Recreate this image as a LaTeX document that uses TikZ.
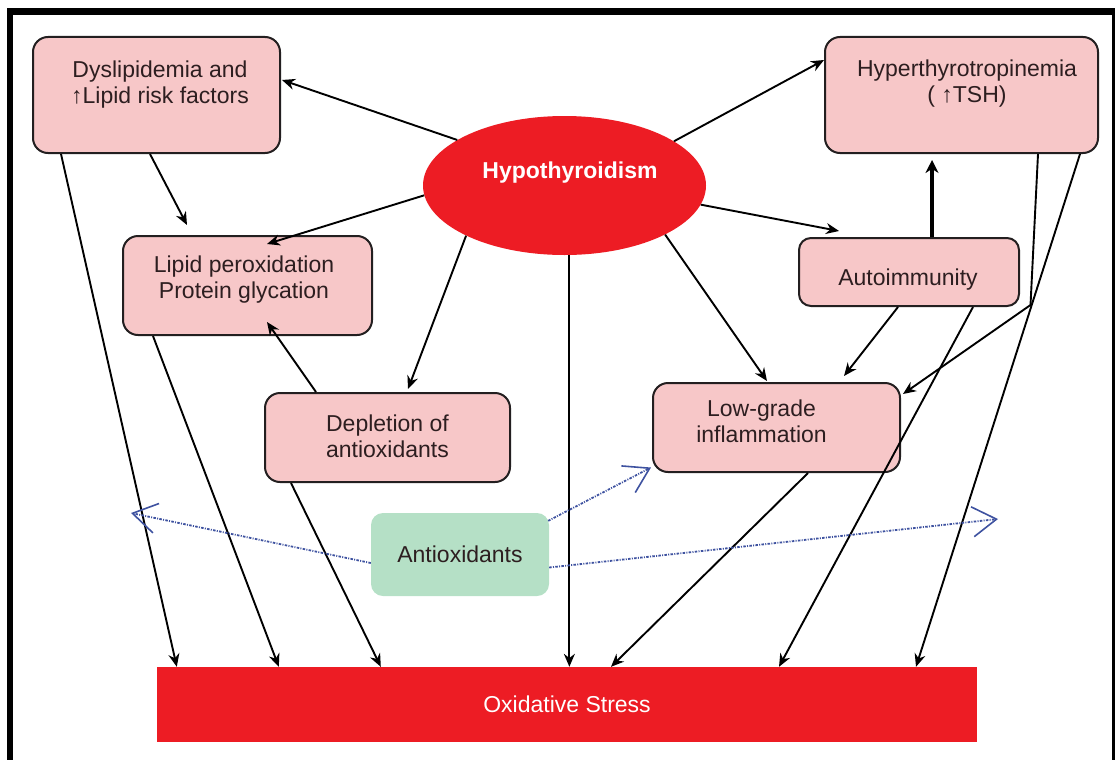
\documentclass[tikz,border=0pt]{standalone}
\usepackage{fontspec}
\setmainfont{Liberation Sans}
\usetikzlibrary{arrows.meta,calc,shapes.geometric}

\definecolor{boxpink}{RGB}{247,199,200}
\definecolor{boxedge}{RGB}{35,31,32}
\definecolor{hotred}{RGB}{237,28,36}
\definecolor{mint}{RGB}{181,224,198}
\definecolor{inkbrown}{RGB}{45,30,32}
\definecolor{dotblue}{RGB}{62,82,160}

\tikzset{
  txt/.style={font=\fontsize{23}{26}\selectfont, text=inkbrown, align=center, inner sep=0pt},
  whitetxt/.style={font=\fontsize{23}{26}\selectfont, text=white, inner sep=0pt},
  factor/.style={draw=boxedge, line width=2pt, fill=boxpink, rounded corners=15pt, inner sep=0pt},
  link/.style={draw=black, line width=1.9pt, -{Stealth[length=13pt,width=11pt]}},
  thicklink/.style={draw=black, line width=3.8pt, -{Stealth[length=13pt,width=13pt]}},
  antiarrow/.style={draw=dotblue, line width=1.8pt,
    dash pattern=on 2.5pt off 1.3pt on 1pt off 1.3pt,
    -{Straight Barb[length=24pt,width=30pt,line width=1.6pt]}}
}

\begin{document}
\begin{tikzpicture}[x=1pt,y=-1pt]
\useasboundingbox (0,0) rectangle (1115,760);

% outer frame (open at the bottom)
\fill[black] (7,8) rectangle (1115,15);
\fill[black] (7,8) rectangle (13,760);
\fill[black] (1112,8) rectangle (1115,760);

% central cause
\node[ellipse, fill=hotred, minimum width=283pt, minimum height=139pt, inner sep=0pt] (hypo) at (564.5,185.5) {};
\node[whitetxt, font=\fontsize{23}{26}\selectfont\bfseries] (hypoT) at (570,173) {Hypothyroidism};

% consequence boxes
\node[factor, minimum width=247pt, minimum height=116pt] (dys) at (156.5,95) {};
\node[txt] (dysT) at ($(dys.center)+(3.5,-10)$) {Dyslipidemia and\\↑Lipid risk factors};

\node[factor, minimum width=273pt, minimum height=116pt] (hyp) at (961.5,95) {};
\node[txt] (hypT) at ($(hyp.center)+(5.5,-11)$) {Hyperthyrotropinemia\\( ↑TSH)};

\node[factor, minimum width=249pt, minimum height=99pt] (lip) at (247.5,285.5) {};
\node[txt] (lipT) at ($(lip.center)+(-3.5,-6)$) {Lipid peroxidation\\Protein glycation};

\node[factor, minimum width=245pt, minimum height=89pt] (dep) at (387.5,437.5) {};
\node[txt] (depT) at ($(dep.center)+(0,-1.5)$) {Depletion of\\antioxidants};

\node[factor, minimum width=220pt, minimum height=68pt, rounded corners=12pt] (aut) at (909,272) {};
\node[txt] (autT) at ($(aut.center)+(-1,8)$) {Autoimmunity};

\node[factor, minimum width=247pt, minimum height=89pt] (low) at (776.5,427.5) {};
\node[txt] (lowT) at ($(low.center)+(-15,-6)$) {Low-grade\\inflammation};

\node[fill=mint, rounded corners=12pt, minimum width=178pt, minimum height=83pt, inner sep=0pt,
      font=\fontsize{23}{26}\selectfont, text=inkbrown] (anti) at (460,554.5) {Antioxidants};

\node[fill=hotred, minimum width=820pt, minimum height=75pt, inner sep=0pt,
      font=\fontsize{23}{26}\selectfont, text=white] (ox) at (567,704.5) {Oxidative Stress};

% free ends of the antioxidant arrows and the bend of one connector
\coordinate (leftTip) at (131,513);
\coordinate (rightTip) at (998,519);
\coordinate (bend) at (1030.5,305);

% connectors leaving hypothyroidism
\draw[link] (hypo.157.6) -- ($(dys.east)+(1,-15)$);
\draw[link] (hypo.22.3) -- ($(hyp.west)+(0,-35)$);
\draw[link] (hypo.184.6) -- ($(lip.north)+(19.5,9)$);
\draw[link] (hypo.207.8) -- ($(dep.north)+(20.5,-3)$);
\draw[link] (hypo.274.5) -- (hypo.274.5 |- ox.north);
\draw[link] (hypo.334.2) -- ($(low.north)+(-9.5,-1)$);
\draw[link] (hypo.352.7) -- ($(aut.north west)+(41,-6)$);

% autoimmunity
\draw[thicklink] ($(aut.north)+(23,0)$) -- ($(hyp.south)+(-29.5,6)$);
\draw[link] ($(aut.south)+(-11,0)$) -- ($(low.north east)+(-57,-6)$);
\draw[link] ($(aut.south east)+(-47,0)$) -- ($(ox.north)+(212,0)$);

% dyslipidemia and lipid peroxidation
\draw[link] ($(dys.south)+(-6.5,0)$) -- ($(lip.north west)+(65,-10)$);
\draw[link] ($(dys.south west)+(29,0)$) -- ($(ox.north west)+(20,0)$);
\draw[link] ($(lip.south west)+(31,0)$) -- ($(ox.north west)+(122,0)$);

% depletion of antioxidants
\draw[link] ($(dep.north west)+(52,0)$) -- ($(lip.south west)+(145,-14)$);
\draw[link] ($(dep.south west)+(27,0)$) -- ($(ox.north west)+(224,0)$);

% inflammation and TSH
\draw[link] ($(low.south)+(31.5,0)$) -- ($(ox.north)+(44,0)$);
\draw[link] ($(hyp.south east)+(-61,0)$) -- (bend) -- ($(low.north east)+(2,12)$);
\draw[link] ($(hyp.south east)+(-19,0)$) -- ($(ox.north)+(349,0)$);

% antioxidant actions
\draw[antiarrow] ($(anti.west)+(0,8.5)$) -- (leftTip);
\draw[antiarrow] ($(anti.east)+(0,13)$) -- (rightTip);
\draw[antiarrow] ($(anti.north east)+(-1,8)$) -- ($(low.west)+(-1,40)$);
\end{tikzpicture}
\end{document}
